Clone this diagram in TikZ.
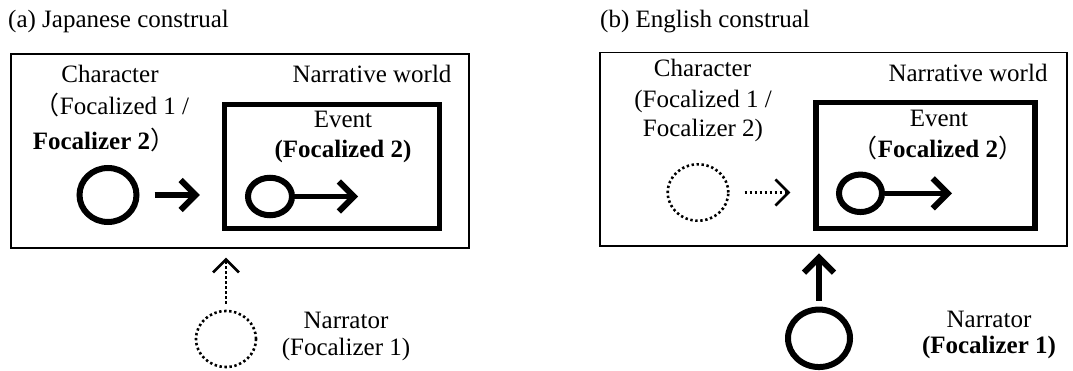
\documentclass[tikz,border=0pt]{standalone}
\usepackage{fontspec}
\setmainfont{Liberation Serif}
\newfontfamily\jpfont{Noto Sans CJK JP}
\usetikzlibrary{arrows.meta,shapes.geometric}
% full-width parentheses
\newcommand\fwlp{{\jpfont （}}
\newcommand\fwrp{{\jpfont ）}}

\begin{document}
\begin{tikzpicture}[x=1pt,y=-1pt,
  lbl/.style={anchor=base, inner sep=0pt, font=\fontsize{25}{30}\selectfont},
  ttl/.style={anchor=base west, inner sep=0pt, font=\fontsize{25}{30}\selectfont},
  world/.style={draw, line width=1.8pt, inner sep=0pt},
  eventbox/.style={draw, line width=5.5pt, inner sep=0pt},
  ring/.style={draw, ellipse, line width=6pt, inner sep=0pt},
  dotring/.style={draw, ellipse, line width=2.6pt, dash pattern=on 2.4pt off 2.6pt, inner sep=0pt},
  bigarrow/.style={line width=6pt, -{Straight Barb[length=15pt,width=30pt]}},
  eventarrow/.style={line width=4.5pt, -{Straight Barb[length=15pt,width=30pt,line width=6pt]}},
  dotarrow/.style={line width=2.6pt, dash pattern=on 2.4pt off 2.6pt, -{Straight Barb[length=13pt,width=26pt]}},
]
\useasboundingbox (0,0) rectangle (1073,371);

% ---------- (a) Japanese construal ----------
\node[ttl] (aTitle) at (8,28) {(a) Japanese construal};
\node[world, minimum width=458pt, minimum height=194pt] (aWorld) at (240,150.7) {};
\node[eventbox, minimum width=215pt, minimum height=124pt] (aEvent) at (332.2,166.7) {};

\node[lbl] (aCharA) at (110,83) {Character};
\node[lbl] (aCharB) at (112,115) {\fwlp Focalized 1 /};
\node[lbl] (aCharC) at (104,150) {\textbf{Focalizer 2}\fwrp};
\node[lbl] (aWorldLbl) at (372,83) {Narrative world};
\node[lbl] (aEventA) at (343,128) {Event};
\node[lbl] (aEventB) at (343,158) {\textbf{(Focalized 2)}};
\node[lbl] (aNarrA) at (346,328) {Narrator};
\node[lbl] (aNarrB) at (346,355) {(Focalizer 1)};

\node[ring, minimum width=57pt, minimum height=54pt] (aChar) at (108,195) {};
\node[ring, minimum width=44pt, minimum height=37.5pt] (aEvCirc) at (270,196.5) {};
\node[dotring, minimum width=60pt, minimum height=56pt] (aNarr) at (226,339) {};
\coordinate (aEvTip) at (358,196.5);

\draw[bigarrow, shorten <=15pt, shorten >=22pt] (aChar.east) -- (aChar.east -| aEvent.west);
\draw[eventarrow] (aEvCirc.east) -- (aEvTip);
\draw[dotarrow, shorten <=6pt, shorten >=9pt] (aNarr.north) -- (aNarr.north |- aWorld.south);

% ---------- (b) English construal ----------
\node[ttl] (bTitle) at (600,28) {(b) English construal};
\node[world, minimum width=466.7pt, minimum height=193.5pt] (bWorld) at (833.7,149.3) {};
\node[eventbox, minimum width=219pt, minimum height=126pt] (bEvent) at (925.5,165.6) {};

\node[lbl] (bCharA) at (702.5,77) {Character};
\node[lbl] (bCharB) at (703,108) {(Focalized 1 /};
\node[lbl] (bCharC) at (703,137) {Focalizer 2)};
\node[lbl] (bWorldLbl) at (968,82) {Narrative world};
\node[lbl] (bEventA) at (939,127) {Event};
\node[lbl] (bEventB) at (938,158) {\fwlp\textbf{Focalized 2}\fwrp};
\node[lbl] (bNarrA) at (989,327) {Narrator};
\node[lbl] (bNarrB) at (989,353) {\textbf{(Focalizer 1)}};

\node[dotring, minimum width=60.6pt, minimum height=56.4pt] (bChar) at (698,192.5) {};
\node[ring, minimum width=43pt, minimum height=37.5pt] (bEvCirc) at (860.5,193.3) {};
\node[ring, minimum width=62pt, minimum height=57.5pt] (bNarr) at (819,338.3) {};
\coordinate (bEvTip) at (952,193.3);

\draw[dotarrow, shorten <=15pt, shorten >=23pt] (bChar.east) -- (bChar.east -| bEvent.west);
\draw[eventarrow] (bEvCirc.east) -- (bEvTip);
\draw[bigarrow, shorten <=6pt, shorten >=6.5pt] (bNarr.north) -- (bNarr.north |- bWorld.south);
\end{tikzpicture}
\end{document}
